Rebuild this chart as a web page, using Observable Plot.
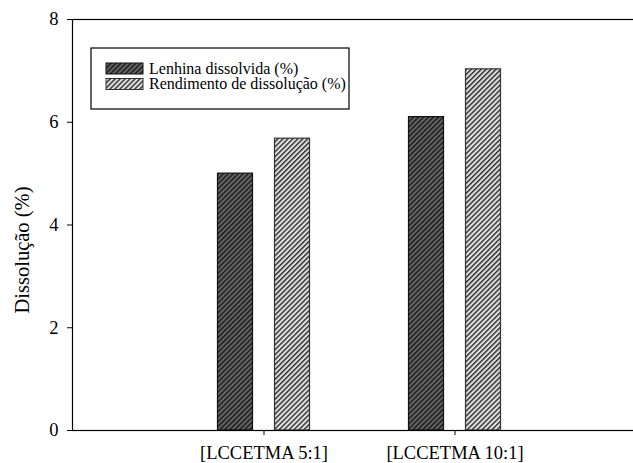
<!DOCTYPE html>
<html>
<head>
<meta charset="utf-8">
<script src="https://cdn.jsdelivr.net/npm/d3@7"></script>
<script src="https://cdn.jsdelivr.net/npm/@observablehq/plot@0.6"></script>
<style>
  html, body { margin: 0; padding: 0; background: #fff; }
  #chart { position: relative; width: 633px; height: 463px; overflow: hidden; }
  #chart svg { max-width: none; }
</style>
</head>
<body>
<div id="chart"></div>
<script>
// Dissolution results per solvent ratio
const categories = ["[LCCETMA 5:1]", "[LCCETMA 10:1]"];
const seriesNames = ["Lenhina dissolvida (%)", "Rendimento de dissolução (%)"];
const lenhinaDissolvida = [5.0, 6.1];
const rendimentoDissolucao = [5.68, 7.03];
const yTicks = [0, 2, 4, 6, 8];
const yTitle = "Dissolução (%)";

const rows = (values) => categories.map((c, i) => ({category: c, value: values[i]}));
const dark = rows(lenhinaDissolvida);
const light = rows(rendimentoDissolucao);

// bar geometry inside each category band
const W = 633, H = 463;
const marginLeft = 72, marginTop = 19, marginBottom = 33, marginRight = -12;
const band = (W - marginRight - marginLeft) / 3;
const barWidth = 35, barGap = 22;
const innerEdge = band / 2 + barGap / 2;
const outerEdge = band / 2 - barGap / 2 - barWidth;

const serif = "'Liberation Serif', 'Times New Roman', serif";

const chart = Plot.plot({
  width: W,
  height: H,
  marginLeft, marginTop, marginBottom, marginRight,
  style: {fontFamily: serif, fontSize: "18.5px", color: "black", background: "white"},
  x: {
    type: "band",
    domain: categories,
    paddingInner: 0,
    paddingOuter: 0.5,
    tickSize: 5,
    tickPadding: 10,
    label: null
  },
  y: {
    domain: [0, 8],
    ticks: yTicks,
    tickSize: 5,
    tickPadding: 9,
    label: null
  },
  marks: [
    Plot.barY(dark, {
      x: "category", y: "value",
      fill: "url(#hatch-dark)", stroke: "#111", strokeWidth: 1.2,
      insetLeft: outerEdge, insetRight: innerEdge
    }),
    Plot.barY(light, {
      x: "category", y: "value",
      fill: "url(#hatch-light)", stroke: "#333", strokeWidth: 1.2,
      insetLeft: innerEdge, insetRight: outerEdge
    }),
    Plot.frame({stroke: "black", strokeWidth: 1.2}),
    Plot.text([yTitle], {
      frameAnchor: "left", dx: -50, dy: 25, rotate: -90,
      textAnchor: "middle", lineAnchor: "middle",
      fontSize: 20.5, fill: "black"
    })
  ]
});

document.getElementById("chart").appendChild(chart);

// hatch fills for the two series
const svg = d3.select(chart);
const defs = svg.insert("defs", ":first-child");
function hatch(id, base, stripe, period, stripeWidth) {
  const p = defs.append("pattern")
    .attr("id", id)
    .attr("patternUnits", "userSpaceOnUse")
    .attr("width", period)
    .attr("height", period)
    .attr("patternTransform", "rotate(45)");
  p.append("rect").attr("width", period).attr("height", period).attr("fill", base);
  p.append("rect").attr("width", stripeWidth).attr("height", period).attr("fill", stripe);
}
hatch("hatch-dark", "#666666", "#1c1c1c", 3.5, 1.5);
hatch("hatch-light", "#e0e0e0", "#2a2a2a", 3.5, 1.4);

// legend box in the upper-left corner of the plot
const legend = svg.append("g")
  .attr("font-family", serif)
  .attr("font-size", 16)
  .attr("text-anchor", "start");
legend.append("rect")
  .attr("x", 91).attr("y", 48).attr("width", 258).attr("height", 61)
  .attr("fill", "white").attr("stroke", "black").attr("stroke-width", 1.2);
const fills = ["url(#hatch-dark)", "url(#hatch-light)"];
const strokes = ["#111", "#333"];
seriesNames.forEach((name, i) => {
  const y = 63 + i * 15.5;
  legend.append("rect")
    .attr("x", 106).attr("y", y).attr("width", 37).attr("height", 11)
    .attr("fill", fills[i]).attr("stroke", strokes[i]).attr("stroke-width", 1);
  legend.append("text")
    .attr("x", 149).attr("y", y + 10.5)
    .attr("fill", "black")
    .text(name);
});
</script>
</body>
</html>
